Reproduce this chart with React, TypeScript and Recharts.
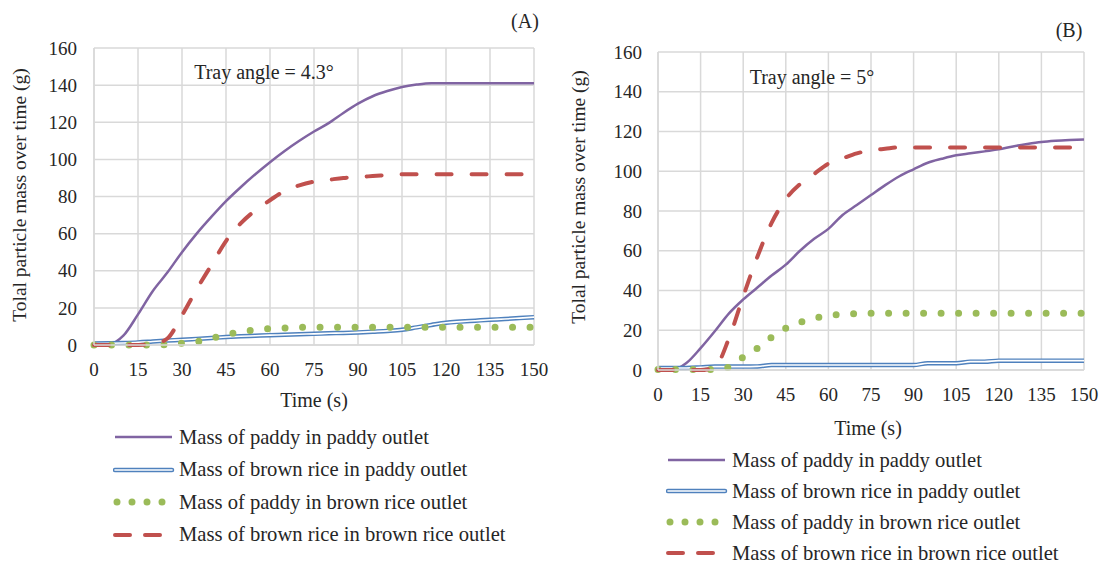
import { LineChart, Line, XAxis, YAxis, CartesianGrid } from "recharts";

const time = [0, 5, 10, 15, 20, 25, 30, 35, 40, 45, 50, 55, 60, 65, 70, 75, 80, 85, 90, 95, 100, 105, 110, 115, 120, 125, 130, 135, 140, 145, 150];
const xTicks = [0, 15, 30, 45, 60, 75, 90, 105, 120, 135, 150];
const yTicks = [0, 20, 40, 60, 80, 100, 120, 140, 160];

const legendNames = [
  "Mass of paddy in paddy outlet",
  "Mass of brown rice in paddy outlet",
  "Mass of paddy in brown rice outlet",
  "Mass of brown rice in brown rice outlet",
];

// (A) tray angle 4.3°
const aPaddyInPaddy = [0, 0.3, 5, 16.5, 29, 39, 50, 60, 69, 77.5, 85, 92, 98.5, 104.5, 110, 115, 119.5, 125, 130, 134, 136.8, 139, 140.3, 141, 141, 141, 141, 141, 141, 141, 141];
const aBrownInPaddy = [0.8, 0.9, 1.1, 1.4, 1.9, 2.4, 2.8, 3.3, 3.8, 4.3, 4.7, 5, 5.3, 5.5, 5.8, 6, 6.3, 6.5, 6.8, 7.2, 7.6, 8.2, 9.5, 10.8, 12, 12.6, 13.1, 13.6, 14, 14.5, 15];
const aPaddyInBrown = [0, 0, 0, 0, 0, 0.3, 1, 1.8, 3.6, 5.6, 7, 8.2, 8.8, 9.2, 9.5, 9.5, 9.5, 9.5, 9.5, 9.5, 9.5, 9.5, 9.5, 9.5, 9.5, 9.5, 9.5, 9.5, 9.5, 9.5, 9.5];
const aBrownInBrown = [0, 0, 0, 0, 0.5, 3.5, 16, 30, 43, 56, 65.5, 72.5, 78, 83, 86, 88, 89, 90, 90.5, 91, 91.5, 92, 92, 92, 92, 92, 92, 92, 92, 92, 92];

// (B) tray angle 5°
const bPaddyInPaddy = [0, 0, 3.5, 11, 19.5, 28.5, 35.5, 41.5, 47.5, 53, 60, 66, 71, 78, 83, 88, 93, 97.5, 101, 104.3, 106.3, 108, 109, 110, 111, 112.5, 113.7, 114.7, 115.3, 115.7, 116];
const bBrownInPaddy = [1, 1, 1, 1.3, 1.7, 1.7, 1.7, 1.8, 2.5, 2.5, 2.5, 2.5, 2.5, 2.5, 2.5, 2.5, 2.5, 2.5, 2.5, 3.4, 3.4, 3.4, 4.2, 4.2, 4.7, 4.7, 4.7, 4.7, 4.7, 4.7, 4.7];
const bPaddyInBrown = [0.3, 0.3, 0.3, 0.3, 0.3, 1.5, 6.5, 11, 16.5, 21, 24, 26, 27.4, 28, 28.3, 28.5, 28.5, 28.5, 28.5, 28.5, 28.5, 28.5, 28.5, 28.5, 28.5, 28.5, 28.5, 28.5, 28.5, 28.5, 28.5];
const bBrownInBrown = [0, 0, 0, 0, 1.5, 16, 37, 57, 74, 86, 93.5, 98.7, 103.8, 106.5, 109, 110.5, 111.3, 112, 112, 112, 112, 112, 112, 112, 112, 112, 112, 112, 112, 112, 112];

const FONT = "Liberation Serif, DejaVu Serif, serif";
const TEXT = "#262626";
const GRID = "#d9d9d9";
const PURPLE = "#8064a2";
const BLUE = "#4f81bd";
const GREEN = "#9bbb59";
const RED = "#c0504d";

function buildRows(p: number[], b: number[], g: number[], r: number[]) {
  return time.map((t, i) => ({ t, pp: p[i], bp: b[i], pb: g[i], bb: r[i] }));
}

function Swatch({ kind }: { kind: number }) {
  return (
    <svg width={62} height={14} style={{ display: "block" }}>
      {kind === 0 && <line x1={2} y1={7} x2={59} y2={7} stroke={PURPLE} strokeWidth={2.5} />}
      {kind === 1 && (
        <>
          <line x1={2} y1={7} x2={59} y2={7} stroke={BLUE} strokeWidth={4.5} strokeLinecap="round" />
          <line x1={2} y1={7} x2={59} y2={7} stroke="#fff" strokeWidth={1.6} strokeLinecap="round" />
        </>
      )}
      {kind === 2 && (
        <line x1={4} y1={7} x2={50} y2={7} stroke={GREEN} strokeWidth={7} strokeDasharray="0 15" strokeLinecap="round" />
      )}
      {kind === 3 && (
        <line x1={2} y1={7} x2={50} y2={7} stroke={RED} strokeWidth={4} strokeDasharray="15 15" strokeLinecap="round" />
      )}
    </svg>
  );
}

function Legend({ left, top, gap }: { left: number; top: number; gap: number }) {
  return (
    <div style={{ position: "absolute", left, top }}>
      {legendNames.map((name, i) => (
        <div
          key={name}
          style={{ position: "absolute", top: i * gap, left: 0, display: "flex", alignItems: "center", whiteSpace: "nowrap", height: 24, transform: "translateY(-12px)" }}
        >
          <Swatch kind={i} />
          <span style={{ marginLeft: 4, fontSize: 20.6, color: TEXT, fontFamily: FONT }}>{name}</span>
        </div>
      ))}
    </div>
  );
}

function Txt({ x, y, children, rotate, size = 20 }: { x: number; y: number; children: string; rotate?: boolean; size?: number }) {
  return (
    <div
      style={{
        position: "absolute",
        left: x,
        top: y,
        transform: `translate(-50%, -50%)${rotate ? " rotate(-90deg)" : ""}`,
        whiteSpace: "nowrap",
        fontSize: size,
        color: TEXT,
        fontFamily: FONT,
      }}
    >
      {children}
    </div>
  );
}

interface PanelProps {
  rows: ReturnType<typeof buildRows>;
  left: number;
  height: number;
  margin: { top: number; right: number; bottom: number; left: number };
  yTickMargin: number;
}

function Panel({ rows, left, height, margin, yTickMargin }: PanelProps) {
  const tick = { fontSize: 19, fill: TEXT, fontFamily: FONT };
  return (
    <div style={{ position: "absolute", left, top: 0, fontFamily: FONT }}>
      <LineChart width={550} height={height} data={rows} margin={margin} style={{ fontFamily: FONT }}>
        <CartesianGrid stroke={GRID} strokeWidth={1.5} />
        <XAxis
          dataKey="t"
          type="number"
          domain={[0, 150]}
          ticks={xTicks}
          height={40}
          tickSize={0}
          tickMargin={18}
          axisLine={{ stroke: GRID, strokeWidth: 1.5 }}
          tickLine={false}
          tick={tick}
          interval={0}
        />
        <YAxis
          type="number"
          domain={[0, 160]}
          ticks={yTicks}
          width={60}
          tickSize={0}
          tickMargin={yTickMargin}
          axisLine={{ stroke: GRID, strokeWidth: 1.5 }}
          tickLine={false}
          tick={tick}
          interval={0}
        />
        <Line type="monotone" dataKey="pp" stroke={PURPLE} strokeWidth={2.5} dot={false} isAnimationActive={false} />
        <Line type="monotone" dataKey="bp" stroke={BLUE} strokeWidth={4.5} dot={false} isAnimationActive={false} />
        <Line type="monotone" dataKey="bp" stroke="#ffffff" strokeWidth={1.6} dot={false} isAnimationActive={false} />
        <Line
          type="monotone"
          dataKey="pb"
          stroke={GREEN}
          strokeWidth={7}
          strokeDasharray="0 17.5"
          strokeLinecap="round"
          dot={false}
          isAnimationActive={false}
        />
        <Line
          type="monotone"
          dataKey="bb"
          stroke={RED}
          strokeWidth={4}
          strokeDasharray="15 20"
          strokeLinecap="round"
          dot={false}
          isAnimationActive={false}
        />
      </LineChart>
    </div>
  );
}

export default function App() {
  const rowsA = buildRows(aPaddyInPaddy, aBrownInPaddy, aPaddyInBrown, aBrownInBrown);
  const rowsB = buildRows(bPaddyInPaddy, bBrownInPaddy, bPaddyInBrown, bBrownInBrown);
  return (
    <div style={{ position: "absolute", left: 0, top: 0, width: 1100, height: 562, background: "#fff", overflow: "hidden", fontFamily: FONT }}>
      <Panel rows={rowsA} left={0} height={420} margin={{ top: 48, right: 16, bottom: 35, left: 34 }} yTickMargin={17} />
      <Panel rows={rowsB} left={550} height={445} margin={{ top: 52, right: 16, bottom: 35, left: 48 }} yTickMargin={16} />

      <Txt x={525} y={21}>(A)</Txt>
      <Txt x={1069} y={30}>(B)</Txt>
      <Txt x={264} y={72}>Tray angle = 4.3°</Txt>
      <Txt x={812} y={77}>Tray angle = 5°</Txt>
      <Txt x={20} y={195} rotate size={19.5}>Tolal particle mass over time (g)</Txt>
      <Txt x={579} y={197} rotate size={19.5}>Tolal particle mass over time (g)</Txt>
      <Txt x={314} y={400}>Time (s)</Txt>
      <Txt x={868} y={428}>Time (s)</Txt>

      <Legend left={113} top={437} gap={32.5} />
      <Legend left={666} top={460} gap={31} />
    </div>
  );
}
